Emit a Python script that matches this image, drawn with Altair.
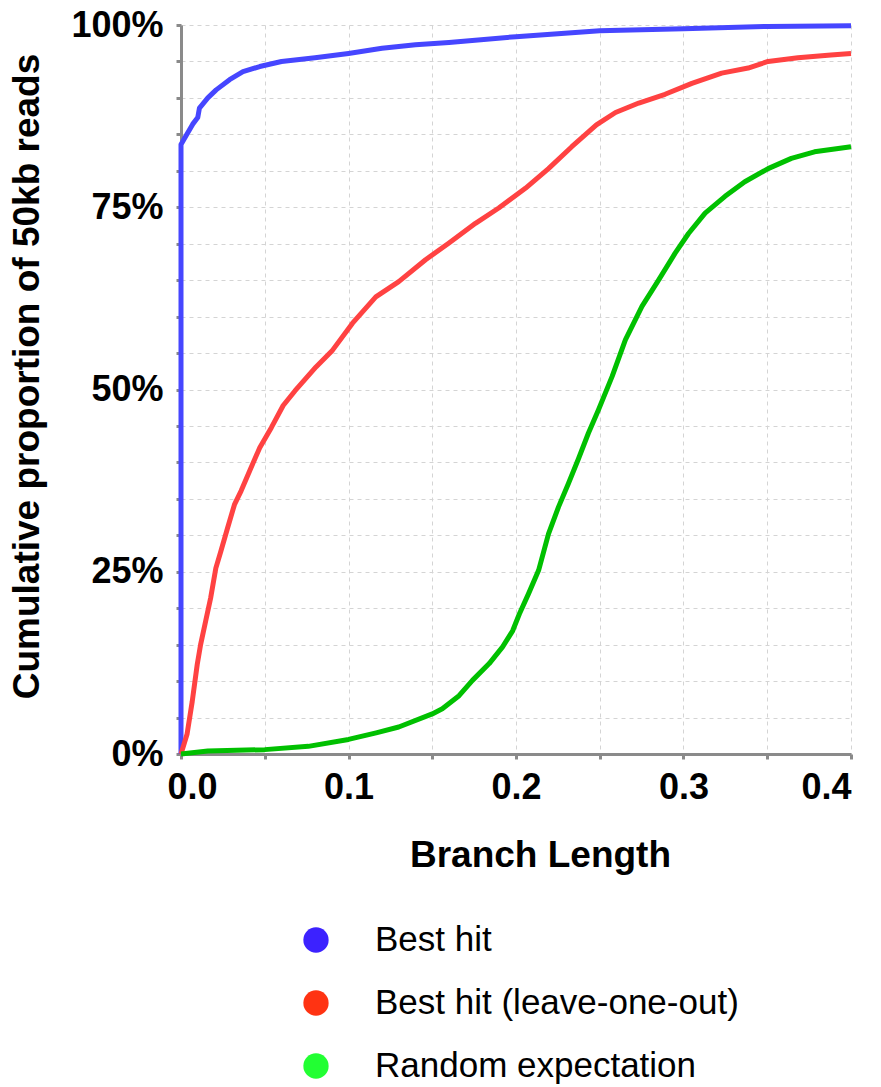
import altair as alt
import pandas as pd

series_names = ["Best hit", "Best hit (leave-one-out)", "Random expectation"]
line_colors = ["#4646FF", "#FF4242", "#00C000"]
legend_colors = ["#3C22FF", "#FF3312", "#22FF33"]

blue_x = [0, 0, 0.003, 0.007, 0.010, 0.011, 0.016, 0.021, 0.029, 0.037, 0.047, 0.060,
          0.080, 0.100, 0.120, 0.140, 0.160, 0.200, 0.250, 0.300, 0.350, 0.400]
blue_y = [0, 83.6, 84.8, 86.4, 87.3, 88.6, 90.0, 91.1, 92.5, 93.6, 94.3, 95.0,
          95.5, 96.1, 96.8, 97.3, 97.6, 98.4, 99.2, 99.5, 99.8, 99.9]

red_x = [0, 0.0036, 0.0067, 0.0097, 0.0117, 0.0147, 0.0177, 0.0208, 0.0238, 0.0278,
         0.0319, 0.0359, 0.0409, 0.047, 0.054, 0.061, 0.068, 0.0806, 0.0905, 0.1024,
         0.1163, 0.130, 0.146, 0.160, 0.1758, 0.1897, 0.2056, 0.2194, 0.2333, 0.248,
         0.2594, 0.2733, 0.289, 0.305, 0.3228, 0.3386, 0.3505, 0.3683, 0.388, 0.400]
red_y = [0, 2.7, 7.2, 12.3, 15.0, 18.2, 21.4, 25.5, 27.8, 31.0,
         34.2, 36.1, 38.8, 42.0, 44.8, 47.8, 49.8, 53.1, 55.4, 59.1,
         62.7, 64.8, 67.8, 70.1, 72.8, 74.9, 77.6, 80.3, 83.3, 86.3,
         88.0, 89.3, 90.5, 92.0, 93.4, 94.1, 95.0, 95.5, 95.9, 96.1]

green_x = [0, 0.016, 0.05, 0.076, 0.100, 0.1165, 0.130, 0.150, 0.156, 0.166, 0.174,
           0.184, 0.192, 0.198, 0.202, 0.2075, 0.2135, 0.2194, 0.2254, 0.2313, 0.2373,
           0.2432, 0.2492, 0.2574, 0.2653, 0.2752, 0.2851, 0.295, 0.303, 0.3129, 0.3248,
           0.3366, 0.3505, 0.3644, 0.3782, 0.400]
green_y = [0, 0.4, 0.6, 1.05, 2.0, 2.9, 3.7, 5.5, 6.2, 8.0, 10.1,
           12.4, 14.7, 16.9, 19.2, 22.0, 25.2, 30.2, 33.9, 37.1, 40.5,
           44.0, 47.2, 51.8, 56.8, 61.4, 65.0, 68.7, 71.4, 74.2, 76.5,
           78.5, 80.3, 81.7, 82.6, 83.3]

x_ticks = [0, 0.05, 0.1, 0.15, 0.2, 0.25, 0.3, 0.35, 0.4]
y_ticks = list(range(0, 101, 5))

rows = []
for name, xs, ys in zip(series_names, [blue_x, red_x, green_x], [blue_y, red_y, green_y]):
    for i, (xv, yv) in enumerate(zip(xs, ys)):
        rows.append({"series": name, "x": xv, "y": yv, "order": i})
df = pd.DataFrame(rows)

FONT = "Liberation Sans"
AXIS_GRAY = "#8a8a8a"

common_axis = dict(
    grid=True, gridColor="#d4d4d4", gridDash=[4, 4], gridWidth=1,
    domainColor=AXIS_GRAY, domainWidth=3,
    tickColor=AXIS_GRAY, tickSize=5, tickWidth=3,
    labelFont=FONT, labelFontSize=36, labelFontWeight="bold", labelColor="black",
    titleFont=FONT, titleFontSize=37, titleFontWeight="bold", titleColor="black",
)

main = alt.Chart(df).mark_line(strokeWidth=5, strokeJoin="round", clip=False).encode(
    x=alt.X("x:Q", scale=alt.Scale(domain=[0, 0.4], nice=False),
            axis=alt.Axis(values=x_ticks, title="Branch Length",
                          labelExpr="round(datum.value*100) % 10 == 0 ? format(datum.value, '.1f') : ''",
                          labelOffset={"condition": {"test": "datum.value === 0", "value": -14}, "value": 0},
                          titleX=359, titleAlign="center",
                          labelPadding=11, titlePadding=32, labelFlush=True, **common_axis)),
    y=alt.Y("y:Q", scale=alt.Scale(domain=[0, 100], nice=False),
            axis=alt.Axis(values=y_ticks, title="Cumulative proportion of 50kb reads",
                          labelExpr="datum.value % 25 == 0 ? datum.value + '%' : ''",
                          titleY=351, titleAlign="center",
                          labelPadding=13, titlePadding=24, **common_axis)),
    color=alt.Color("series:N", scale=alt.Scale(domain=series_names, range=line_colors), legend=None),
    order=alt.Order("order:Q"),
).properties(width=670, height=729)

legend_df = pd.DataFrame({"series": series_names})
leg_y = alt.Y("series:N", scale=alt.Scale(domain=series_names, padding=0), axis=None)
leg_pts = alt.Chart(legend_df).mark_circle(size=640, opacity=1).encode(
    x=alt.value(135), y=leg_y,
    color=alt.Color("series:N", scale=alt.Scale(domain=series_names, range=legend_colors), legend=None),
)
leg_txt = alt.Chart(legend_df).mark_text(align="left", baseline="middle", fontSize=35, font=FONT, color="black").encode(
    x=alt.value(194), y=leg_y, text="series:N",
)
legend = alt.layer(leg_pts, leg_txt).properties(width=670, height=126)

chart = alt.vconcat(main, legend, spacing=50).resolve_scale(color="independent", y="independent", x="independent") \
    .configure_view(stroke=None) \
    .properties(padding={"left": 8, "top": 7, "right": 10, "bottom": 0}, background="white")

chart.save("out.html", embed_options={"renderer": "svg", "actions": False})
